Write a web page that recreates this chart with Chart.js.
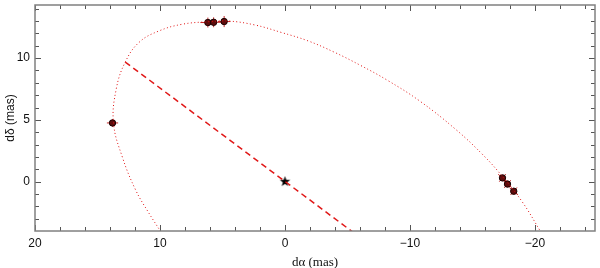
<!DOCTYPE html>
<html>
<head>
<meta charset="utf-8">
<script src="https://cdn.jsdelivr.net/npm/chart.js@4.4.1/dist/chart.umd.min.js"></script>
<style>
    html, body { margin: 0; padding: 0; background: #fff; }
    #wrap { width: 600px; height: 268px; }
</style>
</head>
<body>
<div id="wrap"><canvas id="orbitChart"></canvas></div>
<script>
// orbit model (dotted curve)
const orbitX = [9.94, 10.87, 11.93, 13.0, 13.72, 13.5, 12.78, 11.67, 10.08, 8.23, 6.1, 4.5, 2.4, 0.3, -1.83, -3.94, -6.06, -8.2, -10.8, -13.7, -15.85, -17.4, -19.0, -20.45];
const orbitY = [-4.05, -2.58, -0.72, 1.95, 4.74, 7.5, 9.68, 11.28, 12.2, 12.74, 12.95, 13.0, 12.68, 12.08, 11.4, 10.48, 9.4, 8.2, 6.51, 4.19, 2.15, 0.41, -1.67, -4.05];

// line of nodes (dashed)
const nodesX = [12.78, -5.6];
const nodesY = [9.68, -4.22];

// observed positions + errors
const obsX = [13.8, 6.17, 5.71, 4.87, -17.4, -17.8, -18.3];
const obsY = [4.75, 12.88, 12.9, 12.96, 0.3, -0.2, -0.78];
const obsErrX = [0.45, 0.6, 0.6, 0.5, 0.45, 0.45, 0.45];
const obsErrY = [0.3, 0.4, 0.4, 0.45, 0.4, 0.4, 0.4];
const obsErrAngle = [0, 0, 0, 0, 40, 40, 40];

// primary star
const starX = [0];
const starY = [0];

// axes
const xMajor = [20, 10, 0, -10, -20];
const xMinor = [18, 16, 14, 12, 8, 6, 4, 2, -2, -4, -6, -8, -12, -14, -16, -18, -22, -24];
const yMajor = [0, 5, 10];
const yMinor = [-3, -2, -1, 1, 2, 3, 4, 6, 7, 8, 9, 11, 12, 13, 14];

const toPts = (xs, ys) => xs.map((x, i) => ({ x: x, y: ys[i] }));

// filled star marker
function makeStar(r) {
    const c = document.createElement('canvas');
    c.width = c.height = Math.ceil(r * 2 + 2);
    const g = c.getContext('2d');
    g.translate(c.width / 2, c.height / 2);
    g.beginPath();
    for (let i = 0; i < 10; i++) {
        const rr = i % 2 === 0 ? r : r * 0.42;
        const a = -Math.PI / 2 + i * Math.PI / 5;
        g.lineTo(rr * Math.cos(a), rr * Math.sin(a));
    }
    g.closePath();
    g.fillStyle = '#000';
    g.fill();
    return c;
}

// =====================
// FRAME + INWARD TICKS
// =====================
const frameTicks = {
    id: 'frameTicks',
    afterDraw(chart) {
        const { ctx, chartArea: a, scales: { x, y } } = chart;
        ctx.save();
        ctx.strokeStyle = '#555';
        ctx.lineWidth = 1;
        const tick = (vals, len) => {
            vals.forEach(v => {
                const px = Math.round(x.getPixelForValue(v)) + 0.5;
                ctx.beginPath();
                ctx.moveTo(px, a.bottom); ctx.lineTo(px, a.bottom - len);
                ctx.moveTo(px, a.top); ctx.lineTo(px, a.top + len);
                ctx.stroke();
            });
        };
        const tickY = (vals, len) => {
            vals.forEach(v => {
                const py = Math.round(y.getPixelForValue(v)) + 0.5;
                ctx.beginPath();
                ctx.moveTo(a.left, py); ctx.lineTo(a.left + len, py);
                ctx.moveTo(a.right, py); ctx.lineTo(a.right - len, py);
                ctx.stroke();
            });
        };
        tick(xMajor, 6); tick(xMinor, 4);
        tickY(yMajor, 6); tickY(yMinor, 4);
        ctx.strokeStyle = '#808080';
        ctx.lineWidth = 1.5;
        ctx.strokeRect(a.left, a.top, a.right - a.left, a.bottom - a.top);
        ctx.restore();
    }
};

// =====================
// ERROR BARS
// =====================
const errorBars = {
    id: 'errorBars',
    beforeDatasetsDraw(chart) {
        const { ctx, scales: { x, y } } = chart;
        ctx.save();
        ctx.strokeStyle = '#c62828';
        ctx.lineWidth = 1;
        obsX.forEach((ox, i) => {
            const t = obsErrAngle[i] * Math.PI / 180;
            const c = Math.cos(t), s = Math.sin(t);
            const ex = obsErrX[i], ey = obsErrY[i];
            const seg = (dx, dy) => {
                ctx.beginPath();
                ctx.moveTo(x.getPixelForValue(ox - dx), y.getPixelForValue(obsY[i] - dy));
                ctx.lineTo(x.getPixelForValue(ox + dx), y.getPixelForValue(obsY[i] + dy));
                ctx.stroke();
            };
            seg(ex * c, ex * s);
            seg(-ey * s, ey * c);
        });
        ctx.restore();
    }
};

const chart = new Chart(document.getElementById('orbitChart'), {
    type: 'scatter',
    data: {
        datasets: [
            {
                data: toPts(orbitX, orbitY),
                showLine: true,
                borderColor: '#e01010',
                borderWidth: 1,
                borderDash: [1, 2.5],
                tension: 0.4,
                pointRadius: 0,
            },
            {
                data: toPts(nodesX, nodesY),
                showLine: true,
                borderColor: '#e01818',
                borderWidth: 1.5,
                borderDash: [6, 4],
                pointRadius: 0,
            },
            {
                data: toPts(obsX, obsY),
                showLine: false,
                pointRadius: 3.2,
                pointBackgroundColor: '#5e0c0c',
                pointBorderColor: '#1a0000',
                pointBorderWidth: 1,
            },
            {
                data: toPts(starX, starY),
                showLine: false,
                pointStyle: makeStar(5.5),
            }
        ]
    },
    options: {
        responsive: true,
        maintainAspectRatio: false,
        animation: false,
        events: [],
        layout: { padding: { top: 2, right: 1, left: 0, bottom: 0 } },
        plugins: {
            legend: { display: false },
            tooltip: { enabled: false },
        },
        scales: {
            x: {
                type: 'linear',
                min: -24.8,
                max: 20,
                reverse: true,
                afterBuildTicks: s => { s.ticks = xMajor.map(v => ({ value: v })); },
                afterFit: s => { s.height = 37; s.paddingLeft = 0; s.paddingRight = 0; },
                border: { display: false },
                grid: { display: false, drawTicks: false },
                ticks: {
                    padding: 5,
                    color: '#111',
                    font: { family: 'Liberation Sans', size: 12 },
                    callback: v => (v < 0 ? '\u2212' + (-v) : '' + v),
                },
                title: {
                    display: true,
                    text: 'd\u03b1 (mas)',
                    color: '#111',
                    padding: { top: 0, bottom: -2 },
                    font: { family: 'Liberation Serif', size: 13 },
                }
            },
            y: {
                type: 'linear',
                min: -4,
                max: 14.3,
                afterBuildTicks: s => { s.ticks = yMajor.map(v => ({ value: v })); },
                afterFit: s => { s.width = 35; s.paddingTop = 0; s.paddingBottom = 0; },
                border: { display: false },
                grid: { display: false, drawTicks: false },
                ticks: {
                    padding: 5,
                    color: '#111',
                    font: { family: 'Liberation Sans', size: 12 },
                },
                title: {
                    display: true,
                    text: 'd\u03b4 (mas)',
                    color: '#111',
                    padding: { top: 3, bottom: 0 },
                    font: { family: 'Liberation Sans', size: 12 },
                }
            }
        }
    },
    plugins: [errorBars, frameTicks]
});
</script>
</body>
</html>
